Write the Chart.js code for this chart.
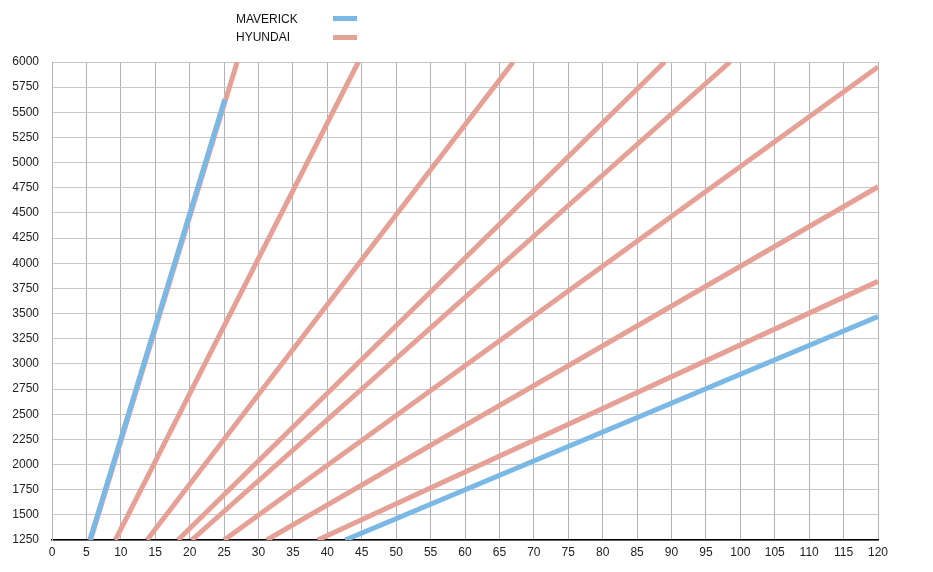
<!DOCTYPE html>
<html>
<head>
<meta charset="utf-8">
<script src="https://cdn.jsdelivr.net/npm/chart.js@4"></script>
<style>
  body { margin: 0; background: #fff; }
  #wrap { position: relative; width: 933px; height: 572px; }
  .legend { position: absolute; left: 236px; font: 12px "Liberation Sans", Arial, sans-serif; color: #111; }
  .swatch { position: absolute; left: 333px; width: 24px; height: 5px; }
</style>
</head>
<body>
<div id="wrap">
  <canvas id="gear-chart" width="933" height="572"></canvas>
  <div class="legend" style="top:12px">MAVERICK</div>
  <div class="legend" style="top:30px">HYUNDAI</div>
  <div class="swatch" style="top:16px;background:#7ab8e6"></div>
  <div class="swatch" style="top:35px;background:#e6a197"></div>
</div>
<script>
// Osie: mph i obroty silnika
const speedTicks = [0, 120, 5];
const rpmTicks = [1250, 6000, 250];

// Każdy bieg: [mph start, rpm start, mph koniec, rpm koniec]
const maverickGears = [
    [5.5, 1250, 25.1, 5630],
    [42.6, 1250, 120, 3470]
];
const hyundaiGears = [
    [5.6, 1250, 26.9, 6000],
    [9.2, 1250, 44.5, 6000],
    [13.8, 1250, 67.0, 6000],
    [18.3, 1250, 89.0, 6000],
    [20.3, 1250, 98.5, 6000],
    [25.0, 1250, 120, 5950],
    [31.2, 1250, 120, 4760],
    [38.6, 1250, 120, 3820]
];

const blue = '#7ab8e6';
const red = '#e6a197';

function toDataset(gear, color, name) {
    return {
        label: name,
        data: [{ x: gear[0], y: gear[1] }, { x: gear[2], y: gear[3] }],
        borderColor: color,
        borderWidth: 5,
        pointRadius: 0,
        borderCapStyle: 'butt',
        fill: false
    };
}

// Maverick najpierw, żeby niebieskie linie były na wierzchu
const datasets = [
    ...maverickGears.map(g => toDataset(g, blue, 'MAVERICK')),
    ...hyundaiGears.map(g => toDataset(g, red, 'HYUNDAI'))
];

const tickFont = { family: '"Liberation Sans", Arial, sans-serif', size: 12 };

const ctx = document.getElementById('gear-chart').getContext('2d');
new Chart(ctx, {
    type: 'line',
    data: { datasets: datasets },
    options: {
        responsive: false,
        animation: false,
        layout: { padding: { top: 62, right: 55, left: 0, bottom: 0 } },
        plugins: { legend: { display: false }, tooltip: { enabled: false } },
        scales: {
            x: {
                type: 'linear',
                min: speedTicks[0],
                max: speedTicks[1],
                ticks: { stepSize: speedTicks[2], color: '#222', font: tickFont, padding: 5, maxRotation: 0, autoSkip: false },
                grid: { color: '#b3b3b3', lineWidth: 1, drawTicks: false },
                border: { color: '#000', width: 1.5 },
                afterFit: scale => { scale.height = 32; }
            },
            y: {
                type: 'linear',
                min: rpmTicks[0],
                max: rpmTicks[1],
                ticks: { stepSize: rpmTicks[2], color: '#222', font: tickFont, padding: 13, callback: v => String(v) },
                grid: { color: '#c8c8c8', lineWidth: 1, drawTicks: false },
                border: { color: '#b3b3b3', width: 1 },
                afterFit: scale => { scale.width = 52; }
            }
        }
    }
});
</script>
</body>
</html>
